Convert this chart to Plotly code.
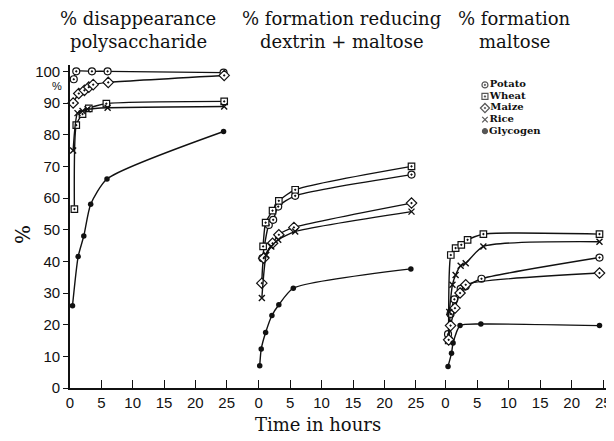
import plotly.graph_objects as go

# ---------------- data ----------------
series_names = ["Potato", "Wheat", "Maize", "Rice", "Glycogen"]
panel_titles = [
    ["% disappearance", "polysaccharide"],
    ["% formation reducing", "dextrin + maltose"],
    ["% formation", "maltose"],
]
x_ticks = [0, 5, 10, 15, 20, 25]
y_ticks = [0, 10, 20, 30, 40, 50, 60, 70, 80, 90, 100]

# panel 1: % disappearance polysaccharide
p1_potato_x = [0.6, 1.0, 3.5, 6.0, 24.5]
p1_potato_y = [97.5, 100, 100, 100, 99.6]
p1_wheat_x = [0.7, 1.0, 2.0, 3.0, 5.8, 24.6]
p1_wheat_y = [56.5, 83, 86.5, 88.3, 89.8, 90.5]
p1_maize_x = [0.5, 1.4, 2.3, 3.0, 3.7, 6.1, 24.6]
p1_maize_y = [90, 93, 94, 95, 95.8, 96.5, 98.7]
p1_rice_x = [0.5, 1.2, 2.0, 2.8, 6.0, 24.6]
p1_rice_y = [75, 86.8, 87.5, 88, 88.5, 88.9]
p1_glyc_x = [0.4, 1.3, 2.2, 3.3, 5.9, 24.5]
p1_glyc_y = [26, 41.5, 48, 58, 66, 81]

# panel 2: % formation reducing dextrin + maltose
p2_potato_x = [0.6, 1.6, 2.3, 3.1, 5.8, 24.3]
p2_potato_y = [41, 51.5, 53.1, 57.3, 60.7, 67.4]
p2_wheat_x = [0.7, 1.1, 2.2, 3.2, 5.8, 24.3]
p2_wheat_y = [44.7, 52.2, 56, 59.1, 62.6, 70]
p2_maize_x = [0.5, 0.8, 2.2, 3.2, 5.6, 24.3]
p2_maize_y = [33.1, 41, 45.7, 48.4, 50.7, 58.4]
p2_rice_x = [0.5, 1.2, 2.0, 3.1, 5.8, 24.3]
p2_rice_y = [28.4, 42, 44.7, 46.8, 49.4, 55.7]
p2_glyc_x = [0.16, 0.4, 1.1, 2.1, 3.2, 5.5, 24.2]
p2_glyc_y = [7, 12.3, 17.5, 22.9, 26.3, 31.5, 37.6]

# panel 3: % formation maltose
p3_potato_x = [0.4, 0.8, 1.4, 2.4, 3.2, 5.7, 24.4]
p3_potato_y = [17, 23.4, 28, 31.3, 32.1, 34.5, 41.2]
p3_wheat_x = [0.5, 0.84, 1.6, 2.5, 3.5, 6.0, 24.4]
p3_wheat_y = [15, 42, 44.2, 45.2, 46.8, 48.6, 48.6]
p3_maize_x = [0.5, 0.8, 1.5, 2.3, 3.2, 24.4]
p3_maize_y = [15.2, 19.7, 25.2, 30, 32.6, 36.3]
p3_rice_x = [0.6, 1.1, 1.6, 2.4, 3.2, 6.0, 24.4]
p3_rice_y = [24, 32.6, 35.7, 38.6, 39.4, 44.7, 46.2]
p3_glyc_x = [0.4, 0.95, 1.2, 2.3, 5.6, 24.4]
p3_glyc_y = [6.8, 11, 14.2, 19.7, 20.2, 19.7]

panels = [
    {"Potato": (p1_potato_x, p1_potato_y), "Wheat": (p1_wheat_x, p1_wheat_y),
     "Maize": (p1_maize_x, p1_maize_y), "Rice": (p1_rice_x, p1_rice_y),
     "Glycogen": (p1_glyc_x, p1_glyc_y)},
    {"Potato": (p2_potato_x, p2_potato_y), "Wheat": (p2_wheat_x, p2_wheat_y),
     "Maize": (p2_maize_x, p2_maize_y), "Rice": (p2_rice_x, p2_rice_y),
     "Glycogen": (p2_glyc_x, p2_glyc_y)},
    {"Potato": (p3_potato_x, p3_potato_y), "Wheat": (p3_wheat_x, p3_wheat_y),
     "Maize": (p3_maize_x, p3_maize_y), "Rice": (p3_rice_x, p3_rice_y),
     "Glycogen": (p3_glyc_x, p3_glyc_y)},
]

# ---------------- styles ----------------
INK = "#111111"
SERIF = "DejaVu Serif, Liberation Serif, serif"
NUM = "Liberation Sans Narrow, Liberation Sans, Arial, sans-serif"

marker_style = {
    "Potato": dict(symbol="circle-dot", size=7, color="white", line=dict(color=INK, width=1.2)),
    "Wheat": dict(symbol="square-dot", size=6.5, color="white", line=dict(color=INK, width=1.2)),
    "Maize": dict(symbol="diamond-dot", size=8, color="white", line=dict(color=INK, width=1.2)),
    "Rice": dict(symbol="x-thin", size=6, color=INK, line=dict(color=INK, width=1.4)),
    "Glycogen": dict(symbol="circle", size=5.5, color=INK, line=dict(color=INK, width=0)),
}

ranges = [[0, 27.6], [-2.5, 27.4], [-2.3, 26.7]]
domains = [[0, 0.318], [0.318, 0.6636], [0.6636, 1.0]]

fig = go.Figure()
for i, pdata in enumerate(panels):
    xa = "x" if i == 0 else f"x{i+1}"
    for name in series_names:
        xs, ys = pdata[name]
        fig.add_trace(go.Scatter(
            x=xs, y=ys, xaxis=xa, yaxis="y", mode="lines+markers",
            line=dict(color=INK, width=1.4, shape="spline", smoothing=0.6),
            marker=marker_style[name], showlegend=False, cliponaxis=False,
            name=name,
        ))

# compact legend drawn on its own small hidden axes
fig.add_trace(go.Scatter(
    x=[0.03] * len(series_names), y=list(range(len(series_names))),
    xaxis="x4", yaxis="y4", mode="markers+text",
    text=["<b>" + n + "</b>" for n in series_names], textposition="middle right",
    textfont=dict(family=SERIF, size=10, color=INK),
    marker=dict(symbol=[marker_style[n]["symbol"] for n in series_names],
                size=[6, 6, 7, 5.5, 5],
                color=["white", "white", "white", INK, INK],
                line=dict(color=INK, width=1.2)),
    showlegend=False, cliponaxis=False,
))

axis_common = dict(showline=True, linecolor=INK, linewidth=1.6, showgrid=False,
                   zeroline=False, ticks="inside", ticklen=8, tickwidth=1.3,
                   tickcolor=INK, tickvals=x_ticks,
                   tickfont=dict(family=NUM, size=15, color=INK))

# the page body adds an 8 px margin, so the figure is 8 px smaller
layout = dict(
    width=606, height=433, margin=dict(l=62, r=0, t=57, b=53),
    paper_bgcolor="white", plot_bgcolor="white", showlegend=False,
    yaxis=dict(range=[0, 102], showline=True, linecolor=INK, linewidth=1.6,
               showgrid=False, zeroline=False, ticks="outside", ticklen=5,
               tickwidth=1.3, tickcolor=INK, tickvals=y_ticks,
               tickfont=dict(family=NUM, size=15, color=INK), anchor="x"),
    xaxis4=dict(domain=[0.757, 0.95], range=[0, 1], visible=False, anchor="y4"),
    yaxis4=dict(domain=[0.7774, 0.9563], range=[4.5, -0.5], visible=False, anchor="x4"),
)
for i in range(3):
    key = "xaxis" if i == 0 else f"xaxis{i+1}"
    layout[key] = dict(axis_common, domain=domains[i], range=ranges[i], anchor="y")

fig.update_layout(**layout)


def px(x):
    return (x - 70) / 544


def py(y):
    return (388 - y) / 323


TF = dict(family=SERIF, size=18, color=INK)
for text, x, y in [(panel_titles[0][0], 138, 19), (panel_titles[0][1], 138, 41),
                   (panel_titles[1][0], 341, 19), (panel_titles[1][1], 342, 41)]:
    fig.add_annotation(text=text, xref="paper", yref="paper", x=px(x), y=py(y),
                       xanchor="center", yanchor="middle", showarrow=False, font=TF)
fig.add_annotation(text=panel_titles[2][0], xref="paper", yref="paper",
                   x=px(456), y=py(19), xanchor="left", yanchor="middle",
                   showarrow=False, font=TF)
fig.add_annotation(text=panel_titles[2][1], xref="paper", yref="paper",
                   x=px(477), y=py(41), xanchor="left", yanchor="middle",
                   showarrow=False, font=TF)

# x-axis label
fig.add_annotation(text="Time in hours", xref="paper", yref="paper",
                   x=px(318), y=py(424), xanchor="center", yanchor="middle",
                   showarrow=False, font=TF)
# y-axis label (rotated %)
fig.add_annotation(text="%", xref="paper", yref="paper",
                   x=px(23), y=py(235), xanchor="center", yanchor="middle",
                   showarrow=False, textangle=-90,
                   font=dict(family=SERIF, size=20, color=INK))
# small % under 100
fig.add_annotation(text="%", xref="paper", yref="paper",
                   x=px(57), y=py(86), xanchor="center", yanchor="middle",
                   showarrow=False, font=dict(family=NUM, size=11, color=INK))

fig.write_html("out.html")
